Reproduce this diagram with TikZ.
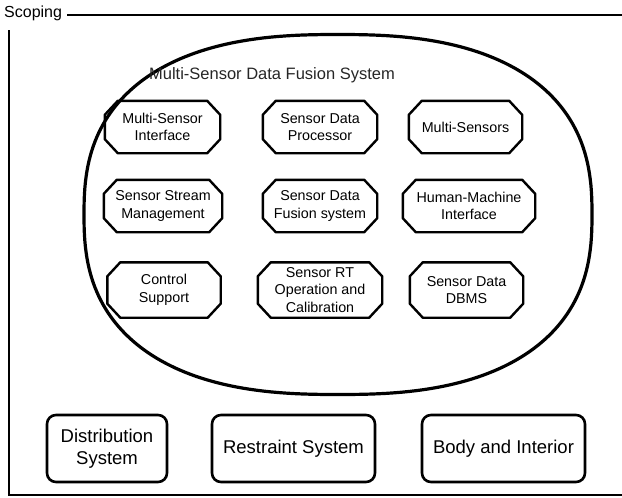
\documentclass[tikz,border=0pt]{standalone}
\usepackage{fontspec}
\setmainfont{Liberation Sans}
\begin{document}
\begin{tikzpicture}[x=1pt,y=-1pt,
  frameline/.style={line width=2pt,black},
  octtext/.style={draw=none,rectangle,inner sep=0pt,align=center,
    font=\fontsize{14.3}{17.5}\selectfont},
  octline/.style={line width=2.4pt,black,line join=round},
  basebox/.style={draw,line width=2.6pt,rounded corners=9pt,align=center,
    inner sep=0pt,font=\fontsize{18.5}{21.5}\selectfont},
  bigoval/.style={line width=3.2pt,black}]
\useasboundingbox (0,0) rectangle (622,498);

% octagonal block with chamfered corners
\newcommand\octnode[6]{%
  \node[octtext,minimum width=#4pt,minimum height=#5pt] (#1) at (#2,#3) {#6};
  \draw[octline] ([xshift=13pt]#1.north west) -- ([xshift=-13pt]#1.north east)
    -- ([yshift=-14pt]#1.north east) -- ([yshift=14pt]#1.south east)
    -- ([xshift=-13pt]#1.south east) -- ([xshift=13pt]#1.south west)
    -- ([yshift=14pt]#1.south west) -- ([yshift=-14pt]#1.north west) -- cycle;}

% scoping frame
\node[anchor=west,inner sep=0pt,font=\fontsize{16}{19}\selectfont] (scoping) at (4,13) {Scoping};
\coordinate (topend) at (622,15);
\coordinate (leftstart) at (9,30);
\coordinate (bottomend) at (622,495);
\draw[frameline] ([xshift=5pt]scoping.east |- topend) -- (topend);
\draw[frameline,line width=2.6pt] (leftstart) |- (bottomend);

% fusion system: a slightly fuller oval (superellipse, exponent 2.5)
\draw[bigoval,line join=round] plot[domain=0:360,samples=240,variable=\t]
  ({338+254*cos(\t)*pow(abs(cos(\t))+0.00001,-0.2)},
   {214.5+180*sin(\t)*pow(abs(sin(\t))+0.00001,-0.2)}) -- cycle;
\node[inner sep=0pt,font=\fontsize{16.5}{19}\selectfont,text=black!85] (title) at (272,75) {Multi-Sensor Data Fusion System};

\octnode{msi}{162.5}{127}{115}{52}{Multi-Sensor\\Interface}
\octnode{sdp}{320}{127}{114}{52}{Sensor Data\\Processor}
\octnode{ms}{465.5}{127}{113}{52}{Multi-Sensors}

\octnode{ssm}{163}{206}{118}{52}{Sensor Stream\\Management}
\octnode{sdf}{320}{206}{114}{52}{Sensor Data\\Fusion system}
\octnode{hmi}{469}{206}{132}{52}{Human-Machine\\Interface}

\octnode{cs}{164}{290}{113}{55}{Control\\Support}
\octnode{rt}{320}{290}{124}{55}{Sensor RT\\Operation and\\Calibration}
\octnode{db}{466.5}{290}{113}{55}{Sensor Data\\DBMS}

% vehicle domains
\node[basebox,minimum width=120pt,minimum height=67pt] (dist) at (107,448.5) {Distribution\\System};
\node[basebox,minimum width=163pt,minimum height=67pt] (rest) at (293.5,448.5) {Restraint System};
\node[basebox,minimum width=163pt,minimum height=67pt] (body) at (503.5,448.5) {Body and Interior};
\end{tikzpicture}
\end{document}
